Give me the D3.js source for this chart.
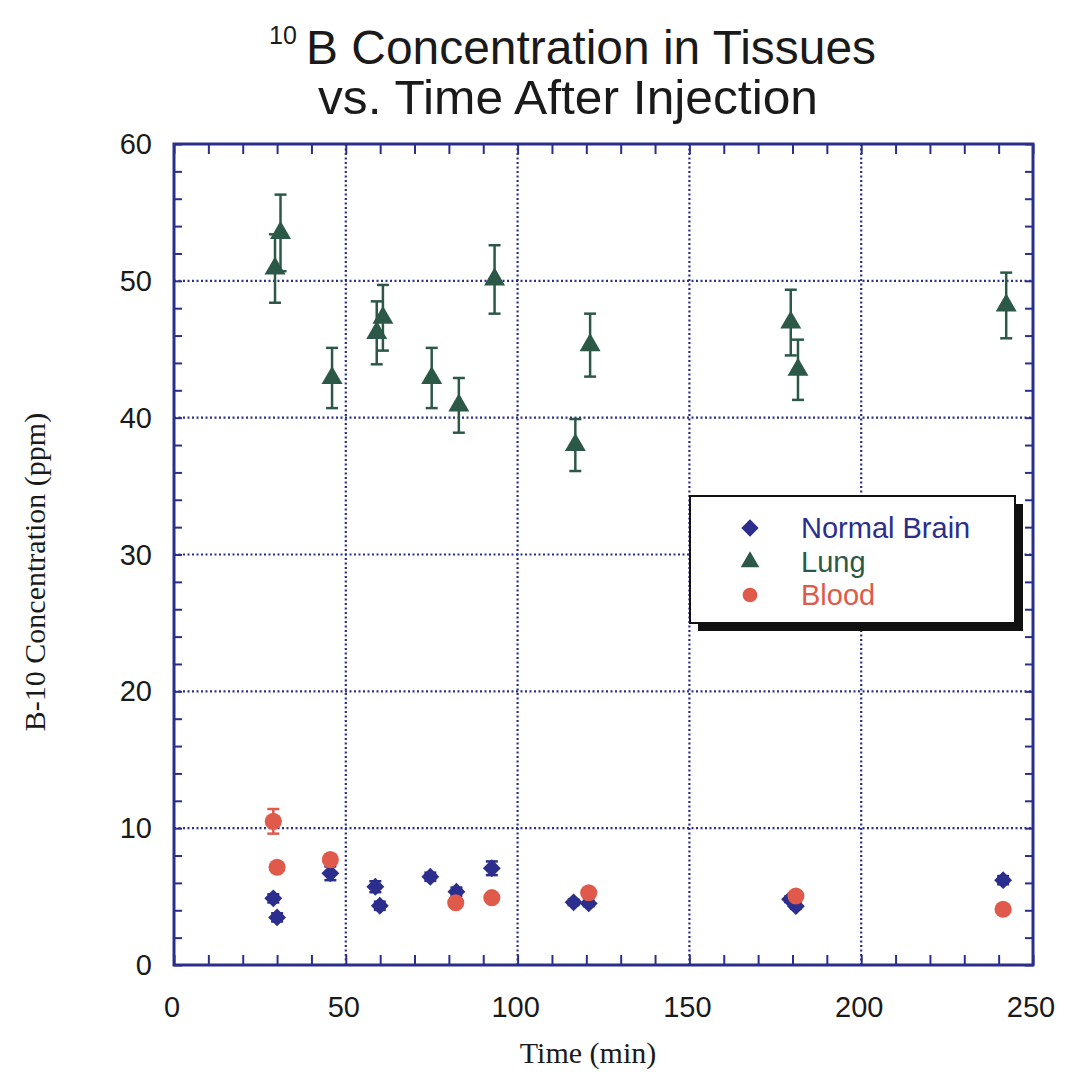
<!DOCTYPE html>
<html>
<head>
<meta charset="utf-8">
<script src="https://cdn.jsdelivr.net/npm/d3@7"></script>
<style>
  body { margin: 0; background: #fff; }
  svg { display: block; }
</style>
</head>
<body>
<svg id="chart" width="1065" height="1074"></svg>
<script>
// values (time in min, concentration in ppm)
var lungTime = [29.4, 31, 46, 59, 60.8, 75, 82.9, 93.3, 116.8, 121.1, 179.5, 181.6, 242.2];
var lungVal  = [50.9, 53.5, 42.9, 46.2, 47.3, 42.9, 40.9, 50.1, 38.0, 45.3, 46.95, 43.5, 48.2];
var lungErr  = [2.5, 2.8, 2.2, 2.3, 2.4, 2.2, 2.0, 2.5, 1.9, 2.3, 2.4, 2.2, 2.4];

var brainTime = [28.9, 30, 45.5, 58.6, 59.9, 74.6, 82.2, 92.5, 116.3, 120.7, 179.3, 181, 241.3];
var brainVal  = [4.87, 3.48, 6.7, 5.72, 4.33, 6.45, 5.36, 7.07, 4.58, 4.5, 4.8, 4.3, 6.2];
var brainErr  = [0.3, 0.3, 0.5, 0.4, 0.3, 0.3, 0.3, 0.5, 0.2, 0.2, 0.2, 0.2, 0.3];

var bloodTime = [28.9, 30, 45.5, 82, 92.5, 120.7, 181, 241.3];
var bloodVal  = [10.5, 7.14, 7.7, 4.55, 4.92, 5.28, 5.04, 4.07];
var bloodErr  = [0.9, 0.3, 0.3, 0.2, 0.2, 0.2, 0.2, 0.2];

var xTicks = [0, 50, 100, 150, 200, 250];
var yTicks = [0, 10, 20, 30, 40, 50, 60];
var legendNames = ["Normal Brain", "Lung", "Blood"];

var navy = "#2b2e8c", green = "#2c5848", red = "#e05a4c";

var svg = d3.select("#chart");
var x = d3.scaleLinear().domain([0, 250]).range([174, 1033]);
var y = d3.scaleLinear().domain([0, 60]).range([965, 144]);

// grid (dotted)
var grid = svg.append("g");
grid.selectAll(".gx").data(xTicks.slice(1, -1)).enter().append("line")
  .attr("x1", d => x(d)).attr("x2", d => x(d)).attr("y1", y(0)).attr("y2", y(60))
  .attr("stroke", navy).attr("stroke-width", 2.2).attr("stroke-dasharray", "2,2.5");
grid.selectAll(".gy").data(yTicks.slice(1, -1)).enter().append("line")
  .attr("y1", d => y(d)).attr("y2", d => y(d)).attr("x1", x(0)).attr("x2", x(250))
  .attr("stroke", navy).attr("stroke-width", 2.2).attr("stroke-dasharray", "2,2.5");

// axes with inward minor ticks on all four sides
var minorX = d3.range(0, 251, 10);
var minorY = d3.range(0, 61, 2);
function tickAxis(axis, vals, len) {
  return axis.tickValues(vals).tickSize(len).tickFormat("");
}
var axes = svg.append("g").attr("class", "axes");
axes.append("g").attr("transform", "translate(0," + y(0) + ")").call(tickAxis(d3.axisTop(x), minorX, 10));
axes.append("g").attr("transform", "translate(0," + y(60) + ")").call(tickAxis(d3.axisBottom(x), minorX, 10));
axes.append("g").attr("transform", "translate(" + x(0) + ",0)").call(tickAxis(d3.axisRight(y), minorY, 8));
axes.append("g").attr("transform", "translate(" + x(250) + ",0)").call(tickAxis(d3.axisLeft(y), minorY, 8));
axes.selectAll(".domain").remove();
axes.selectAll("line").attr("stroke", navy).attr("stroke-width", 2);

svg.append("rect")
  .attr("x", x(0)).attr("y", y(60)).attr("width", x(250) - x(0)).attr("height", y(0) - y(60))
  .attr("fill", "none").attr("stroke", navy).attr("stroke-width", 3);

// tick labels
var labelFont = "Liberation Sans, Arial, sans-serif";
svg.selectAll(".xl").data(xTicks).enter().append("text")
  .attr("x", d => x(d) - 2).attr("y", 1017).attr("text-anchor", "middle")
  .attr("font-family", labelFont).attr("font-size", 29).attr("fill", "#1a1a1a").text(d => d);
svg.selectAll(".yl").data(yTicks).enter().append("text")
  .attr("x", 152).attr("y", d => y(d) + 10).attr("text-anchor", "end")
  .attr("font-family", labelFont).attr("font-size", 29).attr("fill", "#1a1a1a").text(d => d);

// axis titles
svg.append("text").attr("x", 588).attr("y", 1063).attr("text-anchor", "middle")
  .attr("font-family", "Liberation Serif, serif").attr("font-size", 30).attr("fill", "#1a1a1a")
  .text("Time (min)");
svg.append("text").attr("transform", "translate(45,572) rotate(-90)").attr("text-anchor", "middle")
  .attr("font-family", "Liberation Serif, serif").attr("font-size", 30).attr("fill", "#1a1a1a")
  .text("B-10 Concentration (ppm)");

// title
svg.append("text").attr("x", 269).attr("y", 44)
  .attr("font-family", labelFont).attr("font-size", 25).attr("fill", "#1a1a1a").text("10");
svg.append("text").attr("x", 306).attr("y", 64)
  .attr("font-family", labelFont).attr("font-size", 48).attr("fill", "#1a1a1a")
  .attr("textLength", 570).attr("lengthAdjust", "spacingAndGlyphs")
  .text("B Concentration in Tissues");
svg.append("text").attr("x", 318).attr("y", 114)
  .attr("font-family", labelFont).attr("font-size", 48).attr("fill", "#1a1a1a")
  .attr("textLength", 500).attr("lengthAdjust", "spacingAndGlyphs")
  .text("vs. Time After Injection");

// error bars + markers
function series(times, vals, errs, color, shape, size, rot) {
  var rows = times.map((t, i) => ({t: t, v: vals[i], e: errs[i]}));
  var g = svg.append("g");
  var eb = g.selectAll("g").data(rows).enter().append("g").attr("stroke", color).attr("stroke-width", 2.5);
  eb.append("line").attr("x1", d => x(d.t)).attr("x2", d => x(d.t))
    .attr("y1", d => y(d.v + d.e)).attr("y2", d => y(d.v - d.e));
  eb.append("line").attr("x1", d => x(d.t) - 6).attr("x2", d => x(d.t) + 6)
    .attr("y1", d => y(d.v + d.e)).attr("y2", d => y(d.v + d.e));
  eb.append("line").attr("x1", d => x(d.t) - 6).attr("x2", d => x(d.t) + 6)
    .attr("y1", d => y(d.v - d.e)).attr("y2", d => y(d.v - d.e));
  g.selectAll("path").data(rows).enter().append("path")
    .attr("d", d3.symbol().type(shape).size(size))
    .attr("transform", d => "translate(" + x(d.t) + "," + y(d.v) + ") rotate(" + rot + ")")
    .attr("fill", color);
}
series(lungTime, lungVal, lungErr, green, d3.symbolTriangle, 190, 0);
series(brainTime, brainVal, brainErr, navy, d3.symbolSquare, 160, 45);
series(bloodTime, bloodVal, bloodErr, red, d3.symbolCircle, 230, 0);

// legend
var lg = svg.append("g");
lg.append("rect").attr("x", 698).attr("y", 504).attr("width", 325).attr("height", 127).attr("fill", "#111");
lg.append("rect").attr("x", 690).attr("y", 496).attr("width", 325).attr("height", 127)
  .attr("fill", "#fff").attr("stroke", "#111").attr("stroke-width", 2);
var legColors = [navy, green, red];
var legShapes = [d3.symbolSquare, d3.symbolTriangle, d3.symbolCircle];
var legSizes = [150, 150, 170];
var legRot = [45, 0, 0];
var legY = [528, 562, 595];
legendNames.forEach(function (n, i) {
  lg.append("path").attr("d", d3.symbol().type(legShapes[i]).size(legSizes[i])())
    .attr("transform", "translate(750," + legY[i] + ") rotate(" + legRot[i] + ")").attr("fill", legColors[i]);
  lg.append("text").attr("x", 801).attr("y", legY[i] + 10)
    .attr("font-family", labelFont).attr("font-size", 29).attr("fill", legColors[i]).text(n);
});
</script>
</body>
</html>
